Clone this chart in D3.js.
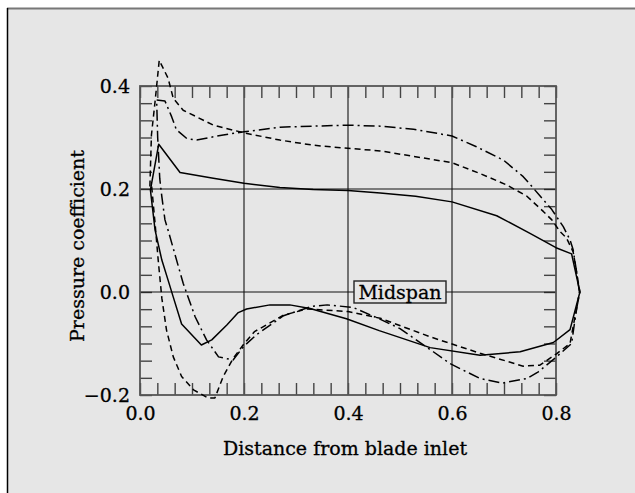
<!DOCTYPE html>
<html>
<head>
<meta charset="utf-8">
<script src="https://cdn.jsdelivr.net/npm/d3@7/dist/d3.min.js"></script>
<style>
html,body{margin:0;padding:0;background:#fff;}
svg{display:block;}
text{font-family:"DejaVu Serif",serif;fill:#000;stroke:#000;stroke-width:0.3px;}
</style>
</head>
<body>
<svg id="chart" width="635" height="493"></svg>
<script>
// ---- data ----
const xTickLabels = ["0.0","0.2","0.4","0.6","0.8"];
const yTickLabels = ["\u22120.2","0.0","0.2","0.4"];
const xTickValues = [0,0.2,0.4,0.6,0.8];
const yTickValues = [-0.2,0,0.2,0.4];

const solidX = [0.020,0.036,0.077,0.141,0.200,0.269,0.333,0.400,0.462,0.530,0.600,0.686,0.750,0.800,0.830,0.846,
  0.827,0.795,0.731,0.654,0.558,0.460,0.397,0.327,0.288,0.250,0.205,0.189,0.167,0.138,0.118,0.080,0.064,0.054,0.042,0.029,0.020];
const solidY = [0.198,0.287,0.232,0.221,0.211,0.203,0.199,0.197,0.192,0.186,0.175,0.148,0.114,0.086,0.074,0.000,
  -0.073,-0.098,-0.116,-0.123,-0.108,-0.075,-0.052,-0.032,-0.025,-0.025,-0.033,-0.040,-0.064,-0.093,-0.103,-0.062,-0.010,0.023,0.062,0.120,0.198];

const dashedX = [0.019,0.022,0.029,0.037,0.054,0.064,0.083,0.141,0.200,0.269,0.333,0.400,0.462,0.600,0.654,0.705,0.744,0.776,0.792,0.808,0.820,0.833,0.840,0.846,
  0.837,0.827,0.801,0.769,0.737,0.654,0.558,0.462,0.400,0.321,0.276,0.220,0.199,0.179,0.160,0.144,0.131,0.103,0.080,0.064,0.051,0.042,0.035,0.029,0.022];
const dashedY = [0.205,0.305,0.370,0.450,0.415,0.376,0.353,0.324,0.309,0.295,0.285,0.279,0.274,0.251,0.230,0.208,0.186,0.156,0.140,0.117,0.105,0.078,0.036,0.000,
  -0.045,-0.100,-0.120,-0.142,-0.144,-0.119,-0.087,-0.051,-0.038,-0.033,-0.045,-0.077,-0.102,-0.129,-0.164,-0.206,-0.206,-0.190,-0.164,-0.126,-0.074,-0.012,0.062,0.133,0.210];

const dashDotX = [0.032,0.048,0.061,0.070,0.090,0.109,0.160,0.200,0.269,0.333,0.400,0.462,0.526,0.600,0.647,0.699,0.737,0.769,0.792,0.814,0.827,0.833,0.840,0.845,
  0.837,0.830,0.801,0.766,0.744,0.696,0.654,0.596,0.564,0.500,0.460,0.410,0.360,0.330,0.276,0.224,0.199,0.179,0.151,0.128,0.106,0.083,0.054,0.048,0.042,0.038,0.034,0.032];
const dashDotY = [0.373,0.371,0.340,0.315,0.298,0.295,0.305,0.311,0.320,0.322,0.324,0.322,0.316,0.303,0.282,0.256,0.224,0.187,0.160,0.127,0.101,0.082,0.036,0.000,
  -0.050,-0.100,-0.126,-0.155,-0.168,-0.177,-0.168,-0.139,-0.116,-0.071,-0.052,-0.030,-0.025,-0.028,-0.046,-0.083,-0.106,-0.132,-0.126,-0.093,-0.048,0.017,0.120,0.140,0.185,0.220,0.300,0.373];

const annotation = "Midspan";
const xTitle = "Distance from blade inlet";
const yTitle = "Pressure coefficient";

// ---- drawing ----
const svg = d3.select("#chart");
svg.append("rect").attr("x",7).attr("y",8).attr("width",700).attr("height",600).attr("fill","#e6e6e6");
svg.append("line").attr("x1",7).attr("x2",640).attr("y1",8.5).attr("y2",8.5).attr("stroke","#777").attr("stroke-width",2);
svg.append("line").attr("x1",7.5).attr("x2",7.5).attr("y1",8).attr("y2",500).attr("stroke","#000").attr("stroke-width",1.5);

const L=140,R=556,T=86,B=395;
const x = d3.scaleLinear().domain([0,0.8]).range([L,R]);
const y = d3.scaleLinear().domain([-0.2,0.4]).range([B,T]);

const g = svg.append("g");
const minorX = d3.range(0,25).map(i=>i/30);
const minorY = d3.range(-6,13).map(i=>i/30);
const tl = 12, tickCol="#444";

// ticks (inward, all sides)
g.append("g").attr("transform",`translate(0,${B})`)
 .call(d3.axisBottom(x).tickValues(minorX).tickSizeInner(-tl).tickSizeOuter(0).tickFormat(""))
 .call(a=>{a.select(".domain").remove();a.selectAll("line").attr("stroke",tickCol).attr("stroke-width",1.4);});
g.append("g").attr("transform",`translate(0,${T})`)
 .call(d3.axisTop(x).tickValues(minorX).tickSizeInner(-tl).tickSizeOuter(0).tickFormat(""))
 .call(a=>{a.select(".domain").remove();a.selectAll("line").attr("stroke",tickCol).attr("stroke-width",1.4);});
g.append("g").attr("transform",`translate(${L},0)`)
 .call(d3.axisLeft(y).tickValues(minorY).tickSizeInner(-tl).tickSizeOuter(0).tickFormat(""))
 .call(a=>{a.select(".domain").remove();a.selectAll("line").attr("stroke",tickCol).attr("stroke-width",1.4);});
g.append("g").attr("transform",`translate(${R},0)`)
 .call(d3.axisRight(y).tickValues(minorY).tickSizeInner(-tl).tickSizeOuter(0).tickFormat(""))
 .call(a=>{a.select(".domain").remove();a.selectAll("line").attr("stroke",tickCol).attr("stroke-width",1.4);});

// grid lines
[0.2,0.4,0.6].forEach(v=>{
  g.append("line").attr("x1",x(v)).attr("x2",x(v)).attr("y1",T).attr("y2",B).attr("stroke","#555").attr("stroke-width",1.6);
});
[0,0.2].forEach(v=>{
  g.append("line").attr("x1",L).attr("x2",R).attr("y1",y(v)).attr("y2",y(v)).attr("stroke","#111").attr("stroke-width",1.2);
});

// frame
g.append("rect").attr("x",L).attr("y",T).attr("width",R-L).attr("height",B-T).attr("fill","none").attr("stroke","#555").attr("stroke-width",1.8);

// tick labels
const xAx = g.append("g").attr("transform",`translate(0,${B})`)
 .call(d3.axisBottom(x).tickValues(xTickValues).tickSize(0).tickPadding(12).tickFormat((d,i)=>xTickLabels[i]));
xAx.select(".domain").remove();
xAx.selectAll("text").style("font-family","DejaVu Serif").style("font-size","19px").attr("fill","#000");
const yAx = g.append("g").attr("transform",`translate(${L},0)`)
 .call(d3.axisLeft(y).tickValues(yTickValues).tickSize(0).tickPadding(10).tickFormat((d,i)=>yTickLabels[i]));
yAx.select(".domain").remove();
yAx.selectAll("text").style("font-family","DejaVu Serif").style("font-size","19px").attr("fill","#000");

// midspan label
const lab = g.append("g");
lab.append("rect").attr("x",354).attr("y",281).attr("width",92).attr("height",22).attr("fill","#e6e6e6").attr("stroke","#222").attr("stroke-width",1.4);
lab.append("text").attr("x",400).attr("y",298.5).attr("text-anchor","middle").style("font-size","19px").text(annotation);

// curves
const line = d3.line().x(d=>x(d[0])).y(d=>y(d[1]));
const series = [
  {xs:solidX, ys:solidY, dash:null},
  {xs:dashedX, ys:dashedY, dash:"6,4"},
  {xs:dashDotX, ys:dashDotY, dash:"11,4,2,4"}
];
series.forEach(s=>{
  const pts = s.xs.map((v,i)=>[v,s.ys[i]]);
  g.append("path").datum(pts).attr("d",line).attr("fill","none").attr("stroke","#000")
   .attr("stroke-width",1.5).attr("stroke-linejoin","round").attr("stroke-dasharray",s.dash);
});

// titles
svg.append("text").attr("x",345).attr("y",455).attr("text-anchor","middle").style("font-size","19px").text(xTitle);
svg.append("text").attr("transform","translate(84,246) rotate(-90)").attr("text-anchor","middle").style("font-size","19px").text(yTitle);
</script>
</body>
</html>
